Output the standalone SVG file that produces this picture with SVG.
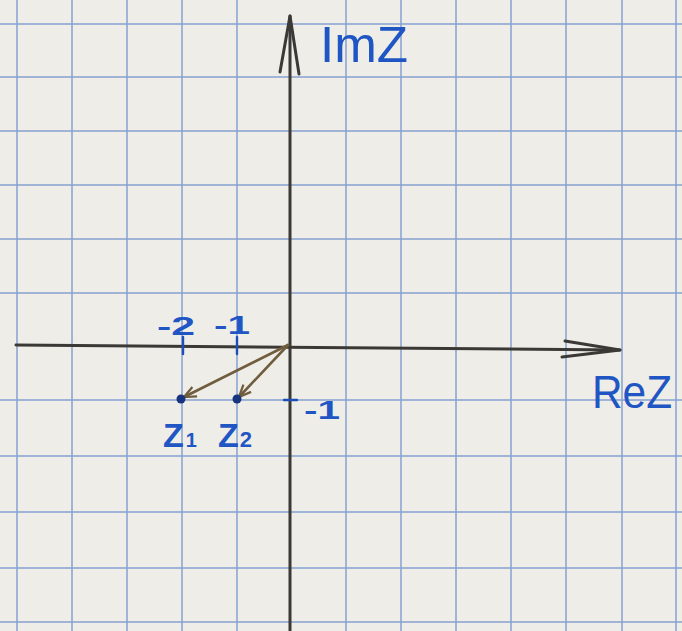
<svg xmlns="http://www.w3.org/2000/svg" width="682" height="631" viewBox="0 0 682 631">
  <style>
    .grid line { stroke: #86a0d2; stroke-width: 1.5; }
    .axis { stroke: #3b3935; stroke-width: 3; fill: none; stroke-linecap: round; stroke-linejoin: round; }
    .vec { stroke: #6f5d3e; stroke-width: 2.6; fill: none; stroke-linecap: round; stroke-linejoin: round; }
    .tick { stroke: #1d4fb8; stroke-width: 2.4; stroke-linecap: round; }
    .hw { font-family: "Liberation Sans", "DejaVu Sans", sans-serif; fill: #1f56c4; }
    .b { font-weight: bold; }
    .dot { fill: #17357e; }
  </style>
  <defs>
    <marker id="vhead" viewBox="0 0 20 20" refX="18" refY="10" markerWidth="15" markerHeight="15" markerUnits="userSpaceOnUse" orient="auto">
      <path d="M2,3 L18,10 L2,17" fill="none" stroke="#6f5d3e" stroke-width="3"/>
    </marker>
  </defs>
  <rect width="682" height="631" fill="#eeede8"/>
  <g id="grid" class="grid">
    <line x1="17" y1="0" x2="17" y2="631"/>
    <line x1="72" y1="0" x2="72" y2="631"/>
    <line x1="127" y1="0" x2="127" y2="631"/>
    <line x1="182" y1="0" x2="182" y2="631"/>
    <line x1="237" y1="0" x2="237" y2="631"/>
    <line x1="346" y1="0" x2="346" y2="631"/>
    <line x1="401" y1="0" x2="401" y2="631"/>
    <line x1="456" y1="0" x2="456" y2="631"/>
    <line x1="511" y1="0" x2="511" y2="631"/>
    <line x1="566" y1="0" x2="566" y2="631"/>
    <line x1="622" y1="0" x2="622" y2="631"/>
    <line x1="676" y1="0" x2="676" y2="631"/>
    <line x1="0" y1="24" x2="682" y2="24"/>
    <line x1="0" y1="77" x2="682" y2="77"/>
    <line x1="0" y1="131" x2="682" y2="131"/>
    <line x1="0" y1="185" x2="682" y2="185"/>
    <line x1="0" y1="239" x2="682" y2="239"/>
    <line x1="0" y1="293" x2="682" y2="293"/>
    <line x1="0" y1="400" x2="682" y2="400"/>
    <line x1="0" y1="456" x2="682" y2="456"/>
    <line x1="0" y1="512" x2="682" y2="512"/>
    <line x1="0" y1="568" x2="682" y2="568"/>
    <line x1="0" y1="622" x2="682" y2="622"/>
  </g>
  <g id="axes">
    <g id="imaxis">
      <line class="axis" x1="290" y1="16" x2="290" y2="631"/>
      <polyline class="axis" points="280,72 290,16 299,74"/>
    </g>
    <g id="reaxis">
      <line class="axis" x1="16" y1="345" x2="620" y2="350"/>
      <polyline class="axis" points="565,341 620,350 562,357"/>
    </g>
  </g>
  <g id="ticks">
    <line class="tick" x1="183" y1="337" x2="183" y2="354"/>
    <line class="tick" x1="237" y1="337" x2="237" y2="354"/>
    <line class="tick" x1="284" y1="400" x2="297" y2="400"/>
  </g>
  <g id="connectors">
    <line class="vec" x1="288" y1="345" x2="184" y2="397" marker-end="url(#vhead)"/>
    <line class="vec" x1="288" y1="345" x2="239" y2="397" marker-end="url(#vhead)"/>
  </g>
  <g id="z1">
    <circle class="dot" cx="181" cy="399" r="4.5"/>
    <text class="hw b" x="163" y="447" font-size="34">Z<tspan font-size="20" dx="2">1</tspan></text>
  </g>
  <g id="z2">
    <circle class="dot" cx="237" cy="399" r="4.5"/>
    <text class="hw b" x="218" y="447" font-size="34">Z<tspan font-size="22" dx="1">2</tspan></text>
  </g>
  <g id="labels">
    <text class="hw" x="320" y="62" font-size="50" textLength="88" lengthAdjust="spacingAndGlyphs">ImZ</text>
    <text class="hw" x="592" y="408" font-size="46" textLength="80" lengthAdjust="spacingAndGlyphs">ReZ</text>
    <text class="hw b" x="157" y="335" font-size="26" textLength="38" lengthAdjust="spacingAndGlyphs">-2</text>
    <text class="hw b" x="214" y="334" font-size="26" textLength="36" lengthAdjust="spacingAndGlyphs">-1</text>
    <text class="hw b" x="304" y="419" font-size="26" textLength="36" lengthAdjust="spacingAndGlyphs">-1</text>
  </g>
</svg>
